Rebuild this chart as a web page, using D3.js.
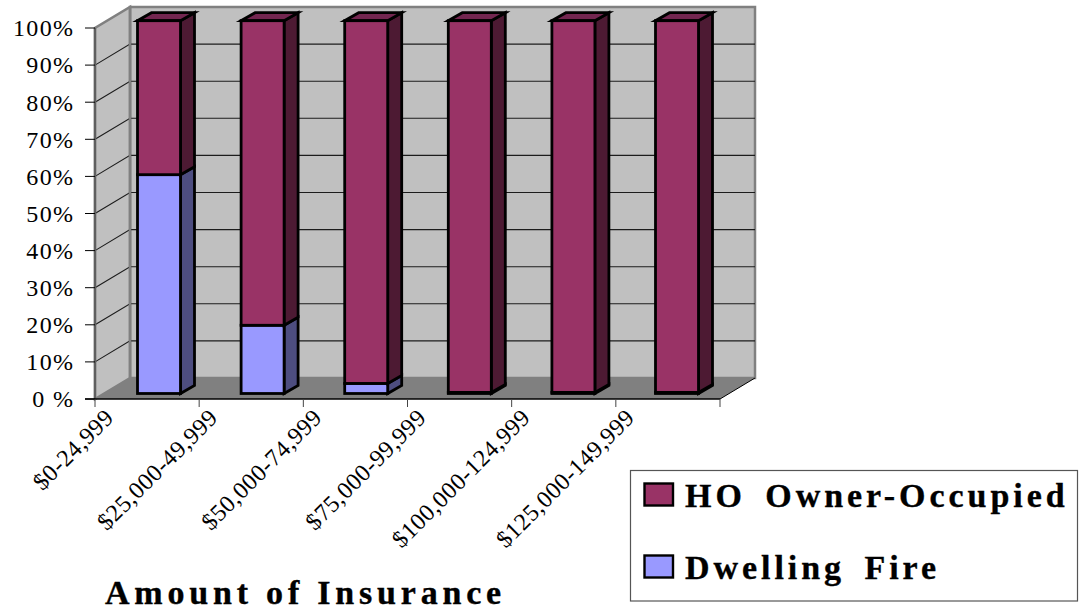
<!DOCTYPE html>
<html>
<head>
<meta charset="utf-8">
<script src="https://cdnjs.cloudflare.com/ajax/libs/d3/7.8.5/d3.min.js"></script>
<style>
html,body{margin:0;padding:0;background:#fff}
svg{display:block}
text{font-family:"Liberation Serif",serif;fill:#000}
</style>
</head>
<body>
<svg id="chart" width="1079" height="611"></svg>
<script>
// Share of policies by amount of insurance
const categories = ["$0-24,999","$25,000-49,999","$50,000-74,999","$75,000-99,999","$100,000-124,999","$125,000-149,999"];
const dwellingFire = [58.7, 18.3, 2.7, 0.3, 0.3, 0.3];
const ownerOccupied = [41.3, 81.7, 97.3, 99.7, 99.7, 99.7];
const percentTicks = [0,10,20,30,40,50,60,70,80,90,100];
const tickLabels = ["0 %","10%","20%","30%","40%","50%","60%","70%","80%","90%","100%"];
const seriesNames = ["HO Owner-Occupied","Dwelling Fire"];

const colors = {
  owner:"#993366", ownerSide:"#4d1a33", ownerTop:"#732650",
  fire:"#9999ff", fireSide:"#4d4d80",
  wall:"#c0c0c0", floor:"#808080", frame:"#808080"
};

const svg = d3.select("#chart");

// Box geometry: front floor edge, plus the oblique offset to the back wall
const boxLeft = 95, boxRight = 720, boxBase = 399, boxTop = 28;
const depth = {x:35, y:-21};
const barDepth = {x:14, y:-8};

const x = d3.scaleBand().domain(categories).range([boxLeft,boxRight]);
const y = d3.scaleLinear().domain([0,100]).range([boxBase,boxTop]);
// Bars stand in the middle of the floor, so they get their own pair of scales
const barWidth = 43;
const xBar = d3.scaleBand().domain(categories).range([137.5,137.5+6*103.6]);
const yBar = d3.scaleLinear().domain([0,100]).range([393.5,20.7]);

const poly = pts => pts.map(p=>p.join(",")).join(" ");

// Back wall
svg.append("rect")
  .attr("x",boxLeft+depth.x).attr("y",boxTop+depth.y)
  .attr("width",boxRight-boxLeft).attr("height",boxBase-boxTop)
  .attr("fill",colors.wall).attr("stroke",colors.frame).attr("stroke-width",2.5);

// Side wall
svg.append("polygon")
  .attr("points",poly([[boxLeft,boxBase],[boxLeft,boxTop],[boxLeft+depth.x,boxTop+depth.y],[boxLeft+depth.x,boxBase+depth.y]]))
  .attr("fill",colors.wall).attr("stroke",colors.frame).attr("stroke-width",2.5);

// Floor
svg.append("polygon")
  .attr("points",poly([[boxLeft,boxBase],[boxLeft+depth.x,boxBase+depth.y],[boxRight+depth.x,boxBase+depth.y],[boxRight,boxBase]]))
  .attr("fill",colors.floor);
svg.append("line")
  .attr("x1",boxRight).attr("y1",boxBase).attr("x2",boxRight+depth.x).attr("y2",boxBase+depth.y)
  .attr("stroke","#000").attr("stroke-width",1);

// Gridlines across the side and back walls
const grid = svg.append("g").attr("stroke","#1c1c1c").attr("stroke-width",1.1).attr("fill","none");
percentTicks.slice(1,-1).forEach(t=>{
  grid.append("polyline").attr("points",poly([
    [boxLeft,y(t)],[boxLeft+depth.x,y(t)+depth.y],[boxRight+depth.x,y(t)+depth.y]
  ]));
});

// Redraw the wall edges on top of the gridlines
svg.append("line").attr("x1",boxLeft+depth.x).attr("x2",boxLeft+depth.x)
  .attr("y1",boxTop+depth.y).attr("y2",boxBase+depth.y)
  .attr("stroke",colors.frame).attr("stroke-width",2.5);
svg.append("line").attr("x1",boxLeft).attr("x2",boxLeft)
  .attr("y1",boxTop).attr("y2",boxBase)
  .attr("stroke",colors.frame).attr("stroke-width",2.5);

// One oblique bar segment: side face, top face, then front face
function segment(g, bx, v0, v1, front, side, topFace){
  const w = barWidth, y0 = yBar(v0), y1 = yBar(v1);
  g.append("polygon")
    .attr("points",poly([[bx+w,y0],[bx+w,y1],[bx+w+barDepth.x,y1+barDepth.y],[bx+w+barDepth.x,y0+barDepth.y]]))
    .attr("fill",side);
  if(topFace) g.append("polygon")
    .attr("points",poly([[bx,y1],[bx+w,y1],[bx+w+barDepth.x,y1+barDepth.y],[bx+barDepth.x,y1+barDepth.y]]))
    .attr("fill",topFace);
  g.append("rect").attr("x",bx).attr("y",y1).attr("width",w).attr("height",y0-y1).attr("fill",front);
}

const bars = svg.append("g")
  .attr("stroke","#000").attr("stroke-width",2.8).attr("stroke-linejoin","miter");
categories.forEach((c,i)=>{
  const bx = xBar(c);
  const g = bars.append("g");
  segment(g,bx,0,dwellingFire[i],colors.fire,colors.fireSide,null);
  segment(g,bx,dwellingFire[i],dwellingFire[i]+ownerOccupied[i],colors.owner,colors.ownerSide,colors.ownerTop);
});

// Vertical axis
const yAxis = svg.append("g");
yAxis.append("line").attr("x1",boxLeft).attr("x2",boxLeft).attr("y1",boxTop).attr("y2",boxBase)
  .attr("stroke","#555").attr("stroke-width",1.5);
percentTicks.forEach((t,i)=>{
  yAxis.append("line").attr("x1",boxLeft-10).attr("x2",boxLeft).attr("y1",y(t)).attr("y2",y(t))
    .attr("stroke","#000").attr("stroke-width",1);
  yAxis.append("text").attr("x",74.5).attr("y",y(t)+8.3)
    .attr("text-anchor","end").attr("font-size",24).attr("letter-spacing","1.4px")
    .text(tickLabels[i]);
});

// Horizontal axis
const xAxis = svg.append("g");
xAxis.append("line").attr("x1",boxLeft-10).attr("x2",boxRight).attr("y1",boxBase).attr("y2",boxBase)
  .attr("stroke","#000").attr("stroke-width",1.5);
[...categories.map(c=>x(c)),boxRight].forEach(px=>{
  xAxis.append("line").attr("x1",px).attr("x2",px).attr("y1",boxBase).attr("y2",boxBase+8)
    .attr("stroke","#444").attr("stroke-width",1);
});
categories.forEach(c=>{
  xAxis.append("text")
    .attr("transform",`translate(${x(c)+20},${boxBase+20}) rotate(-45)`)
    .attr("text-anchor","end").attr("font-size",24).attr("letter-spacing","0.5px")
    .text(c);
});

// Axis title
svg.append("text").attr("x",105).attr("y",604)
  .attr("font-size",34).attr("font-weight","bold").attr("letter-spacing","4.8px")
  .attr("stroke","#000").attr("stroke-width",0.35)
  .text("Amount of Insurance");

// Legend
const legend = svg.append("g");
legend.append("rect").attr("x",630.5).attr("y",470.5).attr("width",447).attr("height",130.5)
  .attr("fill","#fff").attr("stroke","#555").attr("stroke-width",1.2);
seriesNames.forEach((name,i)=>{
  const ly = i===0 ? 483.5 : 555.5;
  legend.append("rect").attr("x",644.5).attr("y",ly).attr("width",28.5).attr("height",22)
    .attr("fill",i===0?colors.owner:colors.fire).attr("stroke","#000").attr("stroke-width",2.4);
  legend.append("text").attr("x",685).attr("y",ly+23.8)
    .attr("font-size",34).attr("font-weight","bold")
    .attr("letter-spacing","3.95px").attr("word-spacing","7px")
    .attr("stroke","#000").attr("stroke-width",0.35)
    .text(name);
});
</script>
</body>
</html>
